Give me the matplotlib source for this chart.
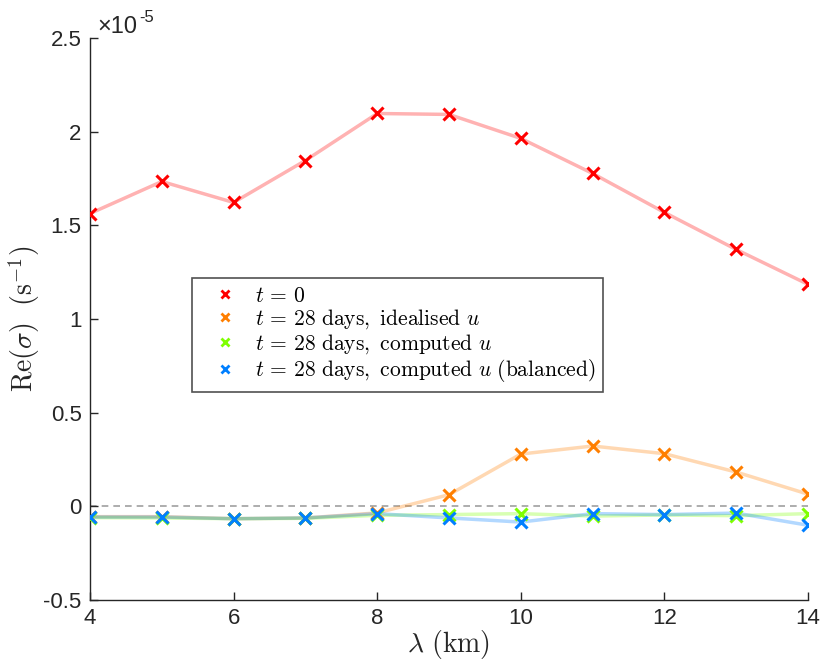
import matplotlib
matplotlib.use("Agg")
import matplotlib.pyplot as plt
import numpy as np

plt.rcParams["mathtext.fontset"] = "cm"
plt.rcParams["font.family"] = ["Liberation Sans", "DejaVu Sans"]

# Wavelength (km)
wavelength = [4, 5, 6, 7, 8, 9, 10, 11, 12, 13, 14]

# Growth rates Re(sigma), in units of 1e-5 s^-1
growth_t0 = [1.563, 1.734, 1.622, 1.846, 2.097, 2.092, 1.964, 1.777, 1.569, 1.371, 1.185]
growth_idealised = [-0.055, -0.055, -0.066, -0.062, -0.035, 0.062, 0.279, 0.322, 0.281, 0.183, 0.065]
growth_computed = [-0.060, -0.062, -0.066, -0.064, -0.048, -0.044, -0.039, -0.052, -0.046, -0.050, -0.039]
growth_balanced = [-0.057, -0.057, -0.066, -0.062, -0.039, -0.062, -0.084, -0.039, -0.044, -0.036, -0.101]

labels = [
    r"$t\, =\, 0$",
    r"$t\, =\, 28\ \mathrm{days,\ idealised}\ u$",
    r"$t\, =\, 28\ \mathrm{days,\ computed}\ u$",
    r"$t\, =\, 28\ \mathrm{days,\ computed}\ u\ \mathrm{(balanced)}$",
]
colors = ["#ff0000", "#ff7f00", "#7fff00", "#007fff"]
series = [growth_t0, growth_idealised, growth_computed, growth_balanced]

axis_col = "#262626"
W, H = 824, 663

fig = plt.figure(figsize=(W / 100, H / 100), dpi=100)
ax = fig.add_axes([90 / W, 1 - 600 / H, 718 / W, 562 / H])

ax.axhline(0, color="#a0a0a0", lw=1.2, ls=(0, (4, 3)), zorder=1)

handles = []
for vals, col, lab in zip(series, colors, labels):
    ax.plot(wavelength, vals, color=col, alpha=0.3, lw=2.5, zorder=2)
    h, = ax.plot(wavelength, vals, ls="none", marker="x", ms=9, mew=2.2,
                 color=col, zorder=3, label=lab)
    handles.append(h)

ax.set_xlim(4, 14)
ax.set_ylim(-0.5, 2.5)
ax.set_xticks([4, 6, 8, 10, 12, 14])
ax.set_yticks([-0.5, 0, 0.5, 1, 1.5, 2, 2.5])
ax.set_yticklabels(["-0.5", "0", "0.5", "1", "1.5", "2", "2.5"])

for side in ["top", "right"]:
    ax.spines[side].set_visible(False)
for side in ["left", "bottom"]:
    ax.spines[side].set_color(axis_col)
    ax.spines[side].set_linewidth(1.0)
ax.tick_params(direction="in", length=6, width=1, colors=axis_col,
               labelsize=16, pad=6)

ax.set_xlabel(r"$\lambda\ \mathrm{(km)}$", fontsize=20, color=axis_col, labelpad=-1)
ax.set_ylabel(r"$\mathrm{Re}(\sigma)\ \ (\mathrm{s}^{-1})$", fontsize=20,
              color=axis_col, labelpad=1)

# scale factor annotation above the y axis
fig.text(97 / W, 1 - 33 / H, "×10", fontsize=17, color=axis_col,
         ha="left", va="baseline")
fig.text(139 / W, 1 - 22 / H, "-5", fontsize=12, color=axis_col,
         ha="left", va="baseline")

leg = ax.legend(handles=handles, loc="upper left",
                bbox_to_anchor=(0.142, 0.573), fontsize=15.5,
                frameon=True, fancybox=False, edgecolor=axis_col,
                handlelength=2.35, handletextpad=0.22, borderpad=0.35,
                labelspacing=0.05, borderaxespad=0)
leg.get_frame().set_linewidth(1.2)
for h in leg.legend_handles:
    h.set_markersize(6)
    h.set_markeredgewidth(2)

fig.savefig("out.png", dpi=100)
